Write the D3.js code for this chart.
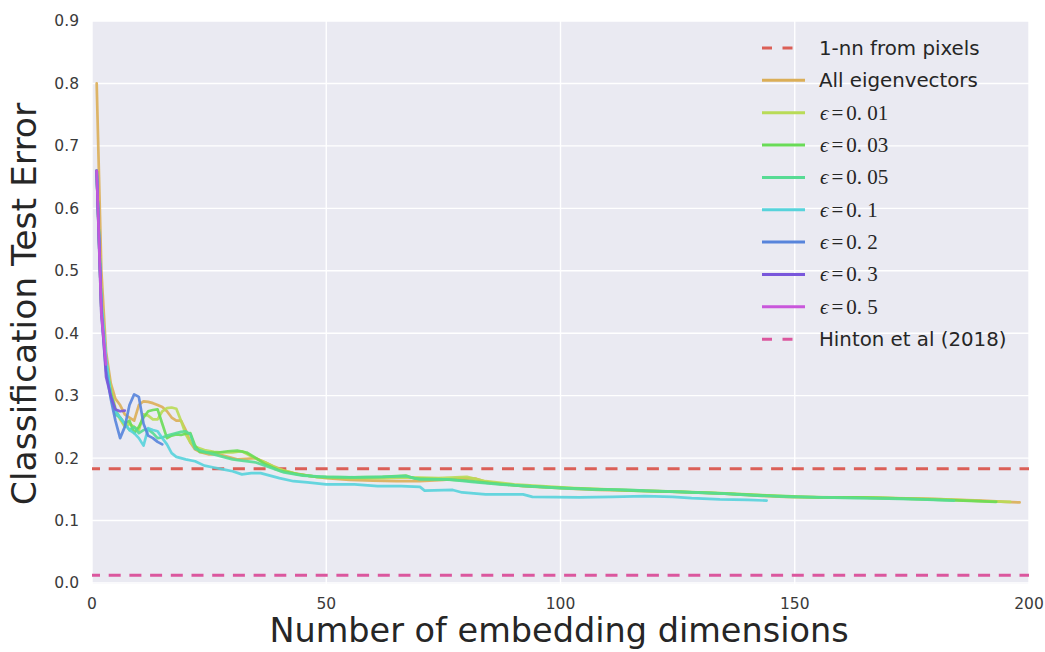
<!DOCTYPE html>
<html>
<head>
<meta charset="utf-8">
<script src="https://cdn.jsdelivr.net/npm/d3@7"></script>
<style>
  body { margin: 0; background: #fff; }
  svg { display: block; }
</style>
</head>
<body>
<div id="chart"></div>
<script>
// values: [dimensions, test error]
const allEigen = [[1,0.80],[2,0.50],[3,0.37],[4,0.32],[5,0.295],[6,0.285],[7,0.27],[8,0.265],[9,0.26],[10,0.285],[11,0.291],[12,0.29],[13,0.288],[14,0.285],[15,0.282],[16,0.275],[17,0.265],[18,0.26],[19,0.26],[20,0.245],[21,0.225],[22,0.214],[23,0.21],[25,0.206],[27,0.206],[29,0.202],[31,0.198],[33,0.199],[35,0.2],[37,0.193],[39,0.186],[41,0.18],[43,0.176],[46,0.172],[50,0.168],[55,0.165],[60,0.164],[65,0.163],[70,0.163],[75,0.165],[79,0.168],[82,0.167],[84,0.162],[88,0.158],[92,0.155],[97,0.153],[102,0.151],[108,0.149],[115,0.148],[120,0.147],[128,0.145],[135,0.143],[142,0.14],[148,0.138],[155,0.137],[162,0.137],[170,0.136],[178,0.135],[185,0.133],[190,0.132],[195,0.13],[198,0.129]]

const eps001 = [[1,0.66],[2,0.45],[3,0.36],[4,0.31],[5,0.28],[6,0.262],[7,0.25],[8,0.255],[9,0.25],[10,0.245],[11,0.27],[12,0.268],[13,0.262],[14,0.262],[15,0.275],[16,0.28],[17,0.281],[18,0.279],[19,0.26],[20,0.238],[21,0.225],[22,0.218],[24,0.213],[26,0.21],[28,0.209],[30,0.209],[32,0.211],[33,0.207],[35,0.199],[37,0.193],[40,0.182],[44,0.174],[48,0.17],[55,0.168],[62,0.168],[68,0.169],[74,0.168],[80,0.17],[84,0.163],[90,0.158],[96,0.155],[103,0.152],[110,0.15],[118,0.148],[126,0.146],[134,0.144],[142,0.141],[150,0.138],[158,0.137],[166,0.137],[174,0.135],[182,0.134],[190,0.131],[196,0.13]]

const eps003 = [[1,0.66],[2,0.44],[3,0.35],[4,0.305],[5,0.275],[6,0.265],[7,0.255],[8,0.26],[9,0.24],[10,0.25],[11,0.265],[12,0.275],[13,0.277],[14,0.278],[15,0.255],[16,0.232],[17,0.236],[18,0.238],[19,0.237],[20,0.239],[21,0.24],[22,0.22],[23,0.21],[25,0.209],[27,0.209],[29,0.211],[31,0.212],[33,0.209],[35,0.2],[37,0.19],[40,0.18],[44,0.174],[48,0.17],[55,0.169],[62,0.17],[67,0.172],[69,0.167],[75,0.166],[80,0.164],[85,0.16],[91,0.156],[98,0.153],[104,0.151],[112,0.149],[118,0.147],[126,0.146],[133,0.144],[141,0.141],[148,0.139],[155,0.137],[163,0.137],[170,0.136],[178,0.134],[186,0.132],[193,0.13]]

const eps005 = [[1,0.66],[2,0.44],[3,0.355],[4,0.30],[5,0.27],[6,0.265],[7,0.255],[8,0.245],[9,0.25],[10,0.24],[11,0.245],[12,0.246],[13,0.24],[14,0.232],[15,0.233],[16,0.236],[17,0.238],[18,0.24],[19,0.242],[20,0.243],[21,0.238],[22,0.215],[24,0.21],[26,0.206],[28,0.202],[30,0.198],[32,0.196],[35,0.193],[38,0.185],[41,0.177],[45,0.172],[50,0.17],[56,0.169],[62,0.17],[67,0.171],[70,0.166],[76,0.166],[81,0.162],[87,0.158],[93,0.155],[100,0.152],[107,0.15],[114,0.149],[121,0.147],[128,0.145],[135,0.143],[142,0.14],[149,0.138],[156,0.137],[163,0.136],[170,0.135],[177,0.134],[184,0.132]]

const eps01 = [[1,0.66],[2,0.45],[3,0.36],[4,0.30],[5,0.275],[6,0.265],[7,0.255],[8,0.245],[9,0.24],[10,0.232],[11,0.22],[12,0.248],[13,0.245],[14,0.243],[15,0.232],[16,0.222],[17,0.208],[18,0.202],[20,0.198],[22,0.195],[24,0.188],[26,0.185],[28,0.182],[30,0.179],[32,0.174],[34,0.176],[36,0.176],[38,0.172],[40,0.168],[43,0.163],[46,0.161],[50,0.158],[56,0.158],[61,0.155],[66,0.155],[70,0.154],[71,0.148],[77,0.149],[79,0.145],[84,0.142],[92,0.142],[94,0.138],[104,0.137],[111,0.138],[118,0.139],[124,0.138],[128,0.136],[134,0.134],[140,0.133],[144,0.132]]

const eps02 = [[1,0.66],[2,0.43],[3,0.34],[4,0.295],[5,0.26],[6,0.232],[7,0.25],[8,0.285],[9,0.302],[10,0.298],[11,0.255],[12,0.236],[13,0.232],[14,0.226],[15,0.222]]

const eps03 = [[1,0.66],[2,0.44],[3,0.33],[4,0.30],[5,0.278],[6,0.275],[7,0.276]]

const eps05 = [[1,0.66],[2,0.43],[3,0.35]]

const pixelsNN = 0.183
const hinton = 0.0125

const seriesLabels = ["All eigenvectors", "0.01", "0.03", "0.05", "0.1", "0.2", "0.3", "0.5"]
const seriesData = [allEigen, eps001, eps003, eps005, eps01, eps02, eps03, eps05]
const seriesColors = ["#dbae57", "#b9db57", "#69db57", "#57db94", "#57d3db", "#5784db", "#7957db", "#c957db"]

const xTicks = [0, 50, 100, 150, 200]
const yTicks = [0, 0.1, 0.2, 0.3, 0.4, 0.5, 0.6, 0.7, 0.8, 0.9]

const width = 1045
const height = 652
const plot = {left: 92, right: 1029, top: 21, bottom: 584}

const x = d3.scaleLinear().domain([0, 200]).range([plot.left, plot.right])
const y = d3.scaleLinear().domain([0, 0.9]).range([583, plot.top])

const svg = d3.create("svg")
  .attr("width", width)
  .attr("height", height)
  .attr("font-family", "'DejaVu Sans', sans-serif")

svg.append("defs").append("clipPath")
  .attr("id", "plot-clip")
  .append("rect")
    .attr("x", plot.left)
    .attr("y", plot.top)
    .attr("width", plot.right - plot.left)
    .attr("height", plot.bottom - plot.top)

svg.append("rect")
  .attr("x", plot.left)
  .attr("y", plot.top)
  .attr("width", plot.right - plot.left)
  .attr("height", plot.bottom - plot.top)
  .attr("fill", "#eaeaf2")

// grid
const grid = svg.append("g").attr("stroke", "#fff").attr("stroke-width", 1.4)
grid.selectAll(".vgrid")
  .data(xTicks)
  .join("line")
    .attr("class", "vgrid")
    .attr("x1", d => x(d)).attr("x2", d => x(d))
    .attr("y1", plot.top).attr("y2", plot.bottom)
grid.selectAll(".hgrid")
  .data(yTicks)
  .join("line")
    .attr("class", "hgrid")
    .attr("x1", plot.left).attr("x2", plot.right)
    .attr("y1", d => y(d)).attr("y2", d => y(d))

// tick labels
svg.append("g")
  .attr("font-size", 15.5)
  .attr("fill", "#3a3a3a")
  .attr("text-anchor", "middle")
  .selectAll("text")
  .data(xTicks)
  .join("text")
    .attr("x", d => x(d))
    .attr("y", 609)
    .text(d => d)

svg.append("g")
  .attr("font-size", 15.5)
  .attr("fill", "#3a3a3a")
  .attr("text-anchor", "end")
  .selectAll("text")
  .data(yTicks)
  .join("text")
    .attr("x", 79)
    .attr("y", d => y(d))
    .attr("dy", "0.35em")
    .text(d => d.toFixed(1))

// axis titles
svg.append("text")
  .attr("x", 559)
  .attr("y", 642)
  .attr("text-anchor", "middle")
  .attr("font-size", 33.5)
  .attr("fill", "#262626")
  .text("Number of embedding dimensions")

svg.append("text")
  .attr("transform", "translate(36,304) rotate(-90)")
  .attr("text-anchor", "middle")
  .attr("font-size", 34.5)
  .attr("fill", "#262626")
  .text("Classification Test Error")

// marks
const marks = svg.append("g").attr("clip-path", "url(#plot-clip)")
const dash = "12,8.7"

marks.append("line")
  .attr("x1", plot.left).attr("x2", plot.right)
  .attr("y1", y(pixelsNN)).attr("y2", y(pixelsNN))
  .attr("stroke", "#db5f57")
  .attr("stroke-width", 3)
  .attr("stroke-dasharray", dash)
  .attr("stroke-dashoffset", 4)

const line = d3.line()
  .x(d => x(d[0]))
  .y(d => y(d[1]))

marks.selectAll(".series")
  .data(seriesData)
  .join("path")
    .attr("class", "series")
    .attr("d", d => line(d))
    .attr("fill", "none")
    .attr("stroke", (d, i) => seriesColors[i])
    .attr("stroke-width", 2.7)
    .attr("stroke-linejoin", "round")
    .attr("stroke-linecap", "round")
    .attr("opacity", 0.9)

marks.append("line")
  .attr("x1", plot.left).attr("x2", plot.right)
  .attr("y1", y(hinton)).attr("y2", y(hinton))
  .attr("stroke", "#db579e")
  .attr("stroke-width", 3)
  .attr("stroke-dasharray", dash)
  .attr("stroke-dashoffset", 4)

// legend
const legendItems = [{label: "1-nn from pixels", color: "#db5f57", dashed: true}]
  .concat(seriesLabels.map((l, i) => ({label: l, color: seriesColors[i], dashed: false, eps: i > 0})))
  .concat([{label: "Hinton et al (2018)", color: "#db579e", dashed: true}])

const legend = svg.append("g")
const rows = legend.selectAll("g")
  .data(legendItems)
  .join("g")
    .attr("transform", (d, i) => `translate(762,${48 + i * 32.35})`)

rows.append("line")
  .attr("x1", 0).attr("x2", d => d.dashed ? 41 : 43)
  .attr("stroke", d => d.color)
  .attr("stroke-width", 3)
  .attr("stroke-dasharray", d => d.dashed ? "10,10.5" : null)

rows.filter(d => !d.eps).append("text")
  .attr("x", 57)
  .attr("dy", "0.35em")
  .attr("font-size", 19.8)
  .attr("fill", "#262626")
  .text(d => d.label)

const epsText = rows.filter(d => d.eps).append("text")
  .attr("x", 58)
  .attr("dy", "0.33em")
  .attr("font-size", 21)
  .attr("font-family", "'Liberation Serif', 'DejaVu Serif', serif")
  .attr("fill", "#262626")
epsText.append("tspan").attr("font-style", "italic").text("\u03f5")
epsText.append("tspan").attr("dx", 3).text("=")
epsText.append("tspan").attr("dx", 3).text(d => d.label.replace(".", ". "))

d3.select("#chart").append(() => svg.node())
</script>
</body>
</html>
